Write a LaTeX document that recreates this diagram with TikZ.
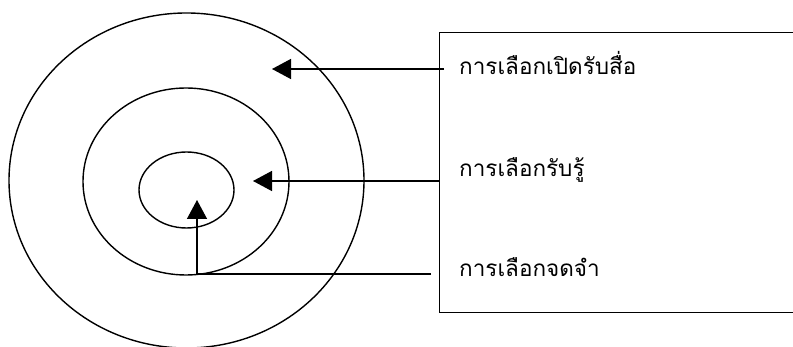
\documentclass[tikz,border=0pt]{standalone}
\usepackage{fontspec}
\newfontfamily\thaifont[Script=Thai]{Loma}
\usetikzlibrary{shapes.geometric,arrows.meta}
\begin{document}
\begin{tikzpicture}[x=1pt,y=-1pt,
  ring/.style={draw,ellipse,line width=1.4pt,inner sep=0pt},
  conn/.style={line width=1.4pt},
  arr/.style={conn,-{Triangle[length=19pt,width=20pt]}},
  lbl/.style={anchor=base west,inner sep=0pt,font=\thaifont\fontsize{22.5}{26}\selectfont}]
\useasboundingbox (0,0) rectangle (793,347);
\clip (0,0) rectangle (793,347);
\node[ring,minimum width=355pt,minimum height=335pt] (outer) at (186.5,180.5) {};
\node[ring,minimum width=206pt,minimum height=187pt] (mid) at (186,181.5) {};
\node[ring,minimum width=95pt,minimum height=76pt] (inner) at (186.5,190) {};
\node[draw,line width=1.4pt,minimum width=400pt,minimum height=280pt,inner sep=0pt,anchor=north west] (box) at (439,32) {};
\node[lbl] (t1) at (459,75) {การเลือกเปิดรับสื่อ};
\node[lbl] (t2) at (459,177) {การเลือกรับรู้};
\node[lbl] (t3) at (459,277) {การเลือกจดจำ};
\coordinate (a1s) at (444,69);
\coordinate (a1e) at (272,69);
\coordinate (a2s) at (box.west |- 0,181);
\coordinate (a2e) at (253,181);
\coordinate (a3s) at (431,274);
\coordinate (a3c) at (197,274);
\coordinate (a3e) at (197,200);
\draw[arr] (a1s) -- (a1e);
\draw[arr] (a2s) -- (a2e);
\draw[conn] (a3s) -- (a3c);
\draw[arr] (a3c) -- (a3e);
\end{tikzpicture}
\end{document}
